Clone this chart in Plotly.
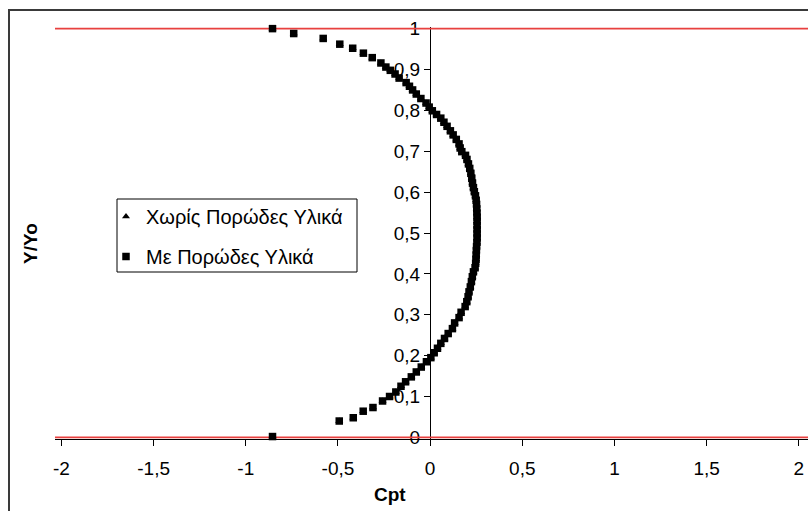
import plotly.graph_objects as go

# Total-pressure coefficient profile across the channel height
cpt = [-0.855, -0.740, -0.580, -0.490, -0.420, -0.362, -0.314, -0.267, -0.240, -0.216,
       -0.190, -0.168, -0.130, -0.112, -0.095, -0.075, -0.050, -0.022, -0.005, 0.012,
       0.035, 0.058, 0.075, 0.092, 0.110, 0.125, 0.142, 0.157, 0.163, 0.172,
       0.192, 0.200, 0.208, 0.215, 0.221, 0.226, 0.230, 0.235, 0.240, 0.246,
       0.250, 0.252, 0.253, 0.254, 0.255, 0.255, 0.255, 0.255, 0.255, 0.255,
       0.254, 0.252, 0.251, 0.250, 0.249, 0.247, 0.244, 0.235, 0.229, 0.224,
       0.218, 0.211, 0.206, 0.199, 0.190, 0.168, 0.157, 0.133, 0.121, 0.098,
       0.078, 0.058, 0.040, 0.022, 0.004, -0.020, -0.048, -0.075, -0.102, -0.133,
       -0.158, -0.186, -0.220, -0.258, -0.310, -0.363, -0.417, -0.493, -0.855]
y_yo = [1.000, 0.988, 0.976, 0.962, 0.952, 0.940, 0.929, 0.916, 0.906, 0.898,
        0.889, 0.879, 0.868, 0.859, 0.850, 0.840, 0.829, 0.818, 0.808, 0.799,
        0.790, 0.781, 0.771, 0.761, 0.750, 0.740, 0.729, 0.718, 0.708, 0.699,
        0.690, 0.680, 0.669, 0.658, 0.646, 0.634, 0.622, 0.611, 0.601, 0.591,
        0.580, 0.570, 0.559, 0.549, 0.539, 0.529, 0.518, 0.508, 0.498, 0.488,
        0.477, 0.467, 0.457, 0.446, 0.436, 0.426, 0.415, 0.405, 0.393, 0.381,
        0.368, 0.356, 0.344, 0.332, 0.320, 0.306, 0.293, 0.280, 0.266, 0.254,
        0.242, 0.230, 0.218, 0.207, 0.195, 0.185, 0.172, 0.160, 0.148, 0.136,
        0.125, 0.111, 0.100, 0.089, 0.073, 0.064, 0.048, 0.040, 0.002]

# Both test cases share the same measured profile
cpt_plain, y_plain = cpt, y_yo          # Χωρίς Πορώδες Υλικά
cpt_porous, y_porous = cpt, y_yo        # Με Πορώδες Υλικά

# Channel walls at Y/Yo = 0 and Y/Yo = 1
wall_x = [-2.035, 2.05]
wall_lower = [0, 0]
wall_upper = [1, 1]

x_ticks = [-2, -1.5, -1, -0.5, 0, 0.5, 1, 1.5, 2]
x_labels = ["-2", "-1,5", "-1", "-0,5", "0", "0,5", "1", "1,5", "2"]
y_ticks = [0, 0.1, 0.2, 0.3, 0.4, 0.5, 0.6, 0.7, 0.8, 0.9, 1]
y_labels = ["0", "0,1", "0,2", "0,3", "0,4", "0,5", "0,6", "0,7", "0,8", "0,9", "1"]

x_range = [-2.035, 2.05]
y_range = [-0.004, 1.004]

FONT = "Liberation Sans, Arial, sans-serif"
W, H = 811, 514
ML, MR, MT, MB = 55, 3, 27, 75
PW, PH = W - ML - MR, H - MT - MB


def px_x(p):
    return (p - ML) / PW


def px_y(p):
    return (H - MB - p) / PH


fig = go.Figure()

wall_red = "#e8403f"
fig.add_trace(go.Scatter(x=wall_x, y=wall_lower, mode="lines",
                         line=dict(color=wall_red, width=1.6),
                         showlegend=False, hoverinfo="skip"))
fig.add_trace(go.Scatter(x=wall_x, y=wall_upper, mode="lines",
                         line=dict(color=wall_red, width=1.6),
                         showlegend=False, hoverinfo="skip"))

fig.add_trace(go.Scatter(x=cpt_plain, y=y_plain, mode="markers",
                         name="Χωρίς Πορώδες Υλικά", legendgroup="a",
                         marker=dict(symbol="triangle-up", size=7, color="black"),
                         cliponaxis=False))
fig.add_trace(go.Scatter(x=cpt_porous, y=y_porous, mode="markers",
                         name="Με Πορώδες Υλικά", legendgroup="b",
                         marker=dict(symbol="square", size=7.5, color="black"),
                         cliponaxis=False))

y_axis_pos = (0 - x_range[0]) / (x_range[1] - x_range[0])

fig.update_layout(
    width=W, height=H,
    margin=dict(l=ML, r=MR, t=MT, b=MB, pad=0),
    paper_bgcolor="white", plot_bgcolor="white",
    font=dict(family=FONT, size=19, color="black"),
    xaxis=dict(range=x_range, tickvals=x_ticks, ticktext=x_labels,
               showgrid=False, zeroline=False, showline=True,
               linecolor="black", linewidth=1, ticks="outside",
               ticklen=6, tickcolor="black", tickwidth=1,
               ticklabelstandoff=6,
               tickfont=dict(size=19), layer="below traces"),
    yaxis=dict(range=y_range, tickvals=y_ticks, ticktext=y_labels,
               anchor="free", position=y_axis_pos,
               showgrid=False, zeroline=False, showline=True,
               linecolor="black", linewidth=1.3, ticks="outside",
               ticklen=6, tickcolor="black", tickwidth=1,
               tickfont=dict(size=19), layer="below traces"),
    legend=dict(x=px_x(106), y=px_y(197), xanchor="left", yanchor="top",
                bgcolor="rgba(0,0,0,0)", borderwidth=0,
                traceorder="grouped", tracegroupgap=11,
                font=dict(size=20, family=FONT)),
    showlegend=True,
)

# Legend frame
fig.add_shape(type="rect", xref="paper", yref="paper",
              x0=px_x(117), x1=px_x(357), y0=px_y(272), y1=px_y(199),
              line=dict(color="black", width=1), fillcolor="rgba(0,0,0,0)")
# Chart frame: left and top edges as one open path
fx0, fx1 = px_x(9), px_x(W - 3)
fy0, fy1 = px_y(H - 3), px_y(10)
fig.add_shape(type="path", xref="paper", yref="paper",
              path=f"M {fx0},{fy0} L {fx0},{fy1} L {fx1},{fy1}",
              line=dict(color="#3a3a3a", width=2))

fig.add_annotation(text="<b>Cpt</b>", xref="paper", yref="paper",
                   x=px_x(390), y=px_y(494), xanchor="center", yanchor="middle",
                   showarrow=False, font=dict(size=19, family=FONT))
fig.add_annotation(text="<b>Y/Yo</b>", xref="paper", yref="paper",
                   x=px_x(30), y=px_y(244), xanchor="center", yanchor="middle",
                   showarrow=False, textangle=-90,
                   font=dict(size=19, family=FONT))

fig.write_html("out.html")
